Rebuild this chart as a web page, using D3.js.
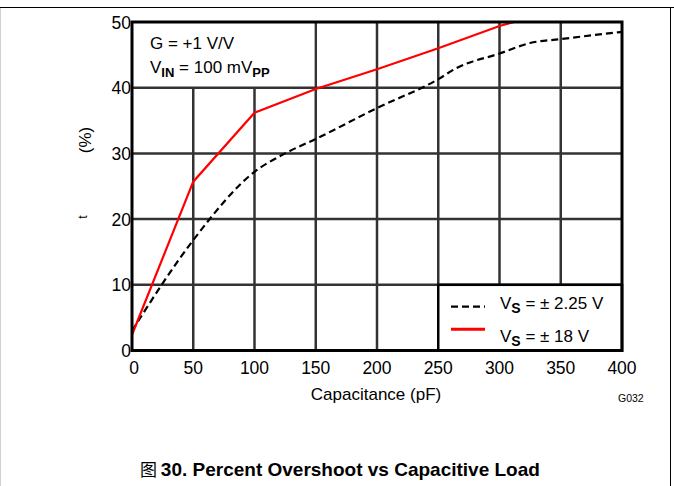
<!DOCTYPE html>
<html>
<head>
<meta charset="utf-8">
<script src="https://cdn.jsdelivr.net/npm/d3@7"></script>
<style>
  body { margin: 0; background: #fff; }
  svg { display: block; font-family: "Liberation Sans", Arial, sans-serif; }
</style>
</head>
<body>
<div id="chart"></div>
<script>
// Percent overshoot vs capacitive load
const xTicks = [0, 50, 100, 150, 200, 250, 300, 350, 400];
const yTicks = [0, 10, 20, 30, 40, 50];

// Vs = +-18 V (red, solid)
const capHigh = [0, 50, 100, 150, 200, 250, 300, 312];
const overshootHigh = [2.4, 25.7, 36.2, 39.8, 42.8, 46.0, 49.4, 50];

// Vs = +-2.25 V (black, dashed)
const capLow = [0, 50, 100, 125, 150, 200, 250, 265, 300, 325, 350, 400];
const overshootLow = [3.0, 16.8, 27.2, 30.0, 32.2, 36.9, 41.3, 43.0, 45.2, 46.8, 47.4, 48.5];

const width = 674, height = 486;
const plot = { left: 132, right: 622, top: 22, bottom: 350.5 };

const svg = d3.select('#chart').append('svg')
  .attr('width', width)
  .attr('height', height);

const x = d3.scaleLinear().domain([0, 400]).range([plot.left, plot.right]);
const y = d3.scaleLinear().domain([0, 50]).range([plot.bottom, plot.top]);

// page frame
svg.append('line').attr('x1', 0).attr('x2', width).attr('y1', 7.5).attr('y2', 7.5)
  .attr('stroke', '#000').attr('stroke-width', 1);
svg.append('line').attr('x1', 670.5).attr('x2', 670.5).attr('y1', 7).attr('y2', height)
  .attr('stroke', '#000').attr('stroke-width', 1);
svg.append('line').attr('x1', 0.5).attr('x2', 0.5).attr('y1', 8).attr('y2', height)
  .attr('stroke', '#d0d0d0').attr('stroke-width', 1);

// grid
const grid = svg.append('g').attr('stroke', '#333').attr('stroke-width', 2.5);
grid.selectAll('.vg')
    .data(xTicks.slice(1, -1))
  .enter().append('line')
    .attr('x1', d => x(d)).attr('x2', d => x(d))
    .attr('y1', plot.top).attr('y2', plot.bottom);

// blank cell behind the test conditions
svg.append('rect')
  .attr('x', x(0)).attr('y', y(50))
  .attr('width', x(150) - x(0) - 1.5).attr('height', y(40) - y(50))
  .attr('fill', '#fff');

const hgrid = svg.append('g').attr('stroke', '#333').attr('stroke-width', 2.5);
hgrid.selectAll('.hg')
    .data(yTicks.slice(1, -1))
  .enter().append('line')
    .attr('x1', plot.left).attr('x2', plot.right)
    .attr('y1', d => y(d)).attr('y2', d => y(d));

// legend box covers grid in the lower right cell block
svg.append('rect')
  .attr('x', x(250)).attr('y', y(10))
  .attr('width', x(400) - x(250)).attr('height', y(0) - y(10))
  .attr('fill', '#fff').attr('stroke', '#000').attr('stroke-width', 2.5);

// data lines
const lineLow = d3.line()
  .x(d => x(d[0])).y(d => y(d[1]))
  .curve(d3.curveMonotoneX);
const lineHigh = d3.line()
  .x(d => x(d[0])).y(d => y(d[1]));

svg.append('path')
  .attr('d', lineLow(capLow.map((c, i) => [c, overshootLow[i]])))
  .attr('fill', 'none').attr('stroke', '#000').attr('stroke-width', 2.2)
  .attr('stroke-dasharray', '7,4');

svg.append('path')
  .attr('d', lineHigh(capHigh.map((c, i) => [c, overshootHigh[i]])))
  .attr('fill', 'none').attr('stroke', '#ff0000').attr('stroke-width', 2.2);

// plot frame
svg.append('rect')
  .attr('x', plot.left).attr('y', plot.top)
  .attr('width', plot.right - plot.left).attr('height', plot.bottom - plot.top)
  .attr('fill', 'none').attr('stroke', '#000').attr('stroke-width', 3);

// tick labels
svg.selectAll('.xl')
    .data(xTicks)
  .enter().append('text')
    .attr('x', d => x(d) + (d === 0 ? 2 : 0))
    .attr('y', plot.bottom + 23.5)
    .attr('text-anchor', 'middle')
    .attr('font-size', 17.5)
    .text(d => d);

svg.selectAll('.yl')
    .data(yTicks)
  .enter().append('text')
    .attr('x', plot.left - 1)
    .attr('y', d => y(d) + 6.5)
    .attr('text-anchor', 'end')
    .attr('font-size', 17.5)
    .text(d => d);

// axis titles
svg.append('text')
  .attr('x', 376).attr('y', 400)
  .attr('text-anchor', 'middle')
  .attr('font-size', 17)
  .text('Capacitance (pF)');

svg.append('text')
  .attr('transform', 'translate(91,140) rotate(-90)')
  .attr('text-anchor', 'middle')
  .attr('font-size', 17)
  .text('(%)');

svg.append('text')
  .attr('transform', 'translate(87,217) rotate(-90)')
  .attr('text-anchor', 'middle')
  .attr('font-size', 12)
  .text('t');

svg.append('text')
  .attr('x', 618).attr('y', 401.5)
  .attr('font-size', 10.5)
  .text('G032');

// conditions
svg.append('text')
  .attr('x', 150).attr('y', 49)
  .attr('font-size', 17)
  .text('G = +1 V/V');

const vin = svg.append('text')
  .attr('x', 150).attr('y', 73)
  .attr('font-size', 17);
vin.append('tspan').text('V');
vin.append('tspan').attr('font-weight', 'bold').attr('font-size', 13).attr('dy', 4).text('IN');
vin.append('tspan').attr('dy', -4).text(' = 100 mV');
vin.append('tspan').attr('font-weight', 'bold').attr('font-size', 13).attr('dy', 4).text('PP');

// legend
const legendItems = [
  { label: ' = \u00b1 2.25 V', color: '#000', dash: '7,4', width: 2.2 },
  { label: ' = \u00b1 18 V', color: '#ff0000', dash: null, width: 3 }
];
const legend = svg.selectAll('.legend')
    .data(legendItems)
  .enter().append('g')
    .attr('transform', (d, i) => 'translate(0,' + (i * 22.6) + ')');
legend.append('line')
  .attr('x1', 451).attr('x2', 485)
  .attr('y1', 306.7).attr('y2', 306.7)
  .attr('stroke', d => d.color)
  .attr('stroke-width', d => d.width)
  .attr('stroke-dasharray', d => d.dash);
const lt = legend.append('text')
  .attr('x', 500).attr('y', (d, i) => 309 + i * 10)
  .attr('font-size', 17);
lt.append('tspan').text('V');
lt.append('tspan').attr('font-weight', 'bold').attr('font-size', 14).attr('dy', 4).text('S');
lt.append('tspan').attr('dy', -4).text(d => d.label);

// caption
const cap = svg.append('text')
  .attr('x', 140).attr('y', 475.5)
  .attr('font-size', 19);
cap.append('tspan').attr('font-family', '"Noto Sans CJK SC", sans-serif').attr('font-size', 17).text('图 ');
cap.append('tspan').attr('font-weight', 'bold').text('30. Percent Overshoot vs Capacitive Load');
</script>
</body>
</html>
